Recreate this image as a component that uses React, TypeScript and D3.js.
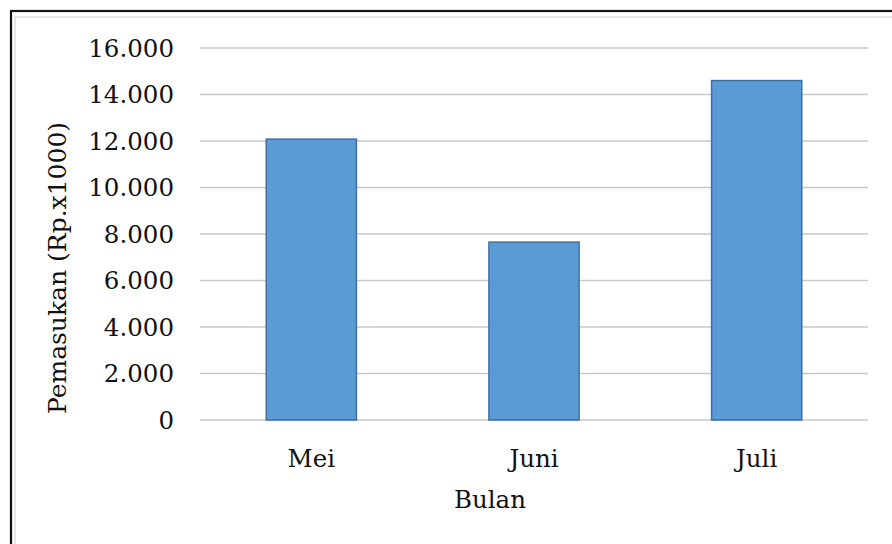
import { useEffect, useRef } from 'react';
import * as d3 from 'd3';

const months = ['Mei', 'Juni', 'Juli'];
const income = [12080, 7650, 14600];
const yTicks = [0, 2000, 4000, 6000, 8000, 10000, 12000, 14000, 16000];

const W = 892;
const H = 544;

export default function App() {
  const svgRef = useRef<SVGSVGElement>(null);

  useEffect(() => {
    if (!svgRef.current) return;
    const svg = d3.select(svgRef.current);
    svg.selectAll('*').remove();

    const font = '"DejaVu Serif", serif';
    const plot = { left: 200, right: 868, top: 48, bottom: 420 };

    // frame: black outer line + thin grey inner line
    svg.append('rect')
      .attr('x', 11).attr('y', 11)
      .attr('width', W + 20).attr('height', H + 20)
      .attr('fill', 'white')
      .attr('stroke', '#111').attr('stroke-width', 2.2);
    svg.append('rect')
      .attr('x', 15).attr('y', 17)
      .attr('width', W + 20).attr('height', H + 20)
      .attr('fill', 'none')
      .attr('stroke', '#cfcfcf').attr('stroke-width', 1);

    const x = d3.scaleBand()
      .domain(months)
      .range([plot.left, plot.right])
      .paddingInner(0.595)
      .paddingOuter(0.2975);

    const y = d3.scaleLinear()
      .domain([0, 16000])
      .range([plot.bottom, plot.top]);

    const fmt = (v: number) => d3.format(',')(v).replace(/,/g, '.');

    const g = svg.append('g');

    g.selectAll('.grid')
      .data(yTicks)
      .join('line')
      .attr('x1', plot.left).attr('x2', plot.right)
      .attr('y1', d => y(d)).attr('y2', d => y(d))
      .attr('stroke', '#c9c9c9').attr('stroke-width', 1.6);

    g.selectAll('.ylab')
      .data(yTicks)
      .join('text')
      .attr('x', 174)
      .attr('y', d => y(d))
      .attr('dy', '0.36em')
      .attr('text-anchor', 'end')
      .style('font-family', font)
      .style('font-size', '24.5px')
      .style('fill', '#111')
      .text(d => fmt(d));

    g.selectAll('.bar')
      .data(months)
      .join('rect')
      .attr('x', d => x(d) || 0)
      .attr('y', (d, i) => y(income[i]))
      .attr('width', x.bandwidth())
      .attr('height', (d, i) => plot.bottom - y(income[i]))
      .attr('fill', '#5b9bd5')
      .attr('stroke', '#3f6f9e')
      .attr('stroke-width', 1.5);

    g.selectAll('.xlab')
      .data(months)
      .join('text')
      .attr('x', d => (x(d) || 0) + x.bandwidth() / 2)
      .attr('y', 467)
      .attr('text-anchor', 'middle')
      .style('font-family', font)
      .style('font-size', '24.5px')
      .style('fill', '#111')
      .text(d => d);

    svg.append('text')
      .attr('x', 490)
      .attr('y', 508)
      .attr('text-anchor', 'middle')
      .style('font-family', font)
      .style('font-size', '24.5px')
      .style('fill', '#111')
      .text('Bulan');

    svg.append('text')
      .attr('transform', 'translate(66,268) rotate(-90)')
      .attr('text-anchor', 'middle')
      .style('font-family', font)
      .style('font-size', '25px')
      .style('fill', '#111')
      .text('Pemasukan (Rp.x1000)');
  }, []);

  return (
    <svg
      ref={svgRef}
      width={W}
      height={H}
      style={{ position: 'absolute', left: 0, top: 0, background: 'white' }}
    />
  );
}
